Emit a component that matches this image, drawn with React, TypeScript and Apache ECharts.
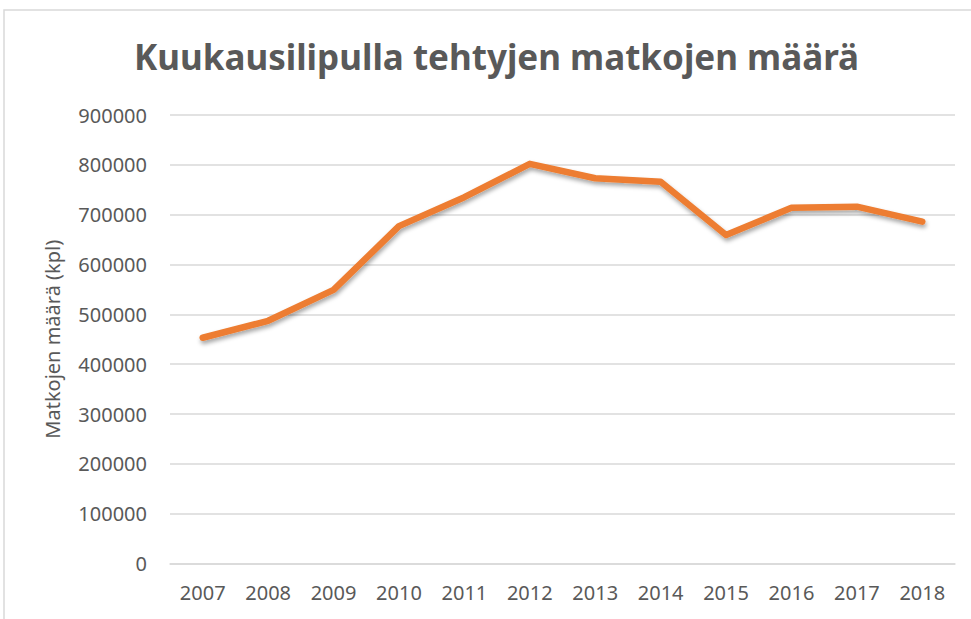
import React, { useEffect, useRef } from "react";
import * as echarts from "echarts";

const years = ["2007", "2008", "2009", "2010", "2011", "2012", "2013", "2014", "2015", "2016", "2017", "2018"];
const trips = [453000, 487000, 549000, 677000, 735000, 802000, 773000, 766000, 659000, 714000, 716000, 686000];
const titleText = "Kuukausilipulla tehtyjen matkojen määrä";
const yAxisName = "Matkojen määrä (kpl)";

export default function App() {
  const ref = useRef<HTMLDivElement>(null);
  useEffect(() => {
    if (!ref.current) return;
    const chart = echarts.init(ref.current, null, { renderer: "svg" });
    const font = "'Noto Sans', 'Open Sans', sans-serif";
    chart.setOption({
      animation: false,
      backgroundColor: "#ffffff",
      textStyle: { fontFamily: font },
      graphic: [
        {
          type: "rect",
          shape: { x: 4, y: 10, width: 1100, height: 800 },
          style: { fill: "none", stroke: "#d9d9d9", lineWidth: 1.5 },
          silent: true,
        },
      ],
      title: {
        text: titleText,
        left: 129,
        top: 34,
        textStyle: { fontFamily: font, fontSize: 35, fontWeight: "bold", color: "#595959" },
      },
      grid: { left: 170, right: 16, top: 115, bottom: 55.5, containLabel: false },
      xAxis: {
        type: "category",
        data: years,
        boundaryGap: true,
        axisLine: { show: true, lineStyle: { color: "#d9d9d9", width: 1.5 } },
        axisTick: { show: false },
        axisLabel: { color: "#595959", fontSize: 20, margin: 19, fontFamily: font },
      },
      yAxis: {
        type: "value",
        min: 0,
        max: 900000,
        interval: 100000,
        name: yAxisName,
        nameLocation: "middle",
        nameGap: 108,
        nameRotate: 90,
        nameTextStyle: { color: "#595959", fontSize: 20, fontFamily: font },
        axisLine: { show: false },
        axisTick: { show: false },
        axisLabel: {
          color: "#595959",
          fontSize: 20,
          margin: 23,
          fontFamily: font,
          formatter: (v: number) => String(v),
        },
        splitLine: { lineStyle: { color: "#d9d9d9", width: 1.5 } },
      },
      series: [
        {
          type: "line",
          data: trips,
          symbol: "none",
          lineStyle: {
            color: "#ED7D31",
            width: 6.5,
            cap: "round",
            join: "round",
            shadowColor: "rgba(0,0,0,0.35)",
            shadowBlur: 4,
            shadowOffsetX: 1,
            shadowOffsetY: 3,
          },
          itemStyle: { color: "#ED7D31" },
        },
      ],
    });
    return () => chart.dispose();
  }, []);
  return <div ref={ref} style={{ position: "fixed", left: 0, top: 0, width: 971, height: 619 }} />;
}
